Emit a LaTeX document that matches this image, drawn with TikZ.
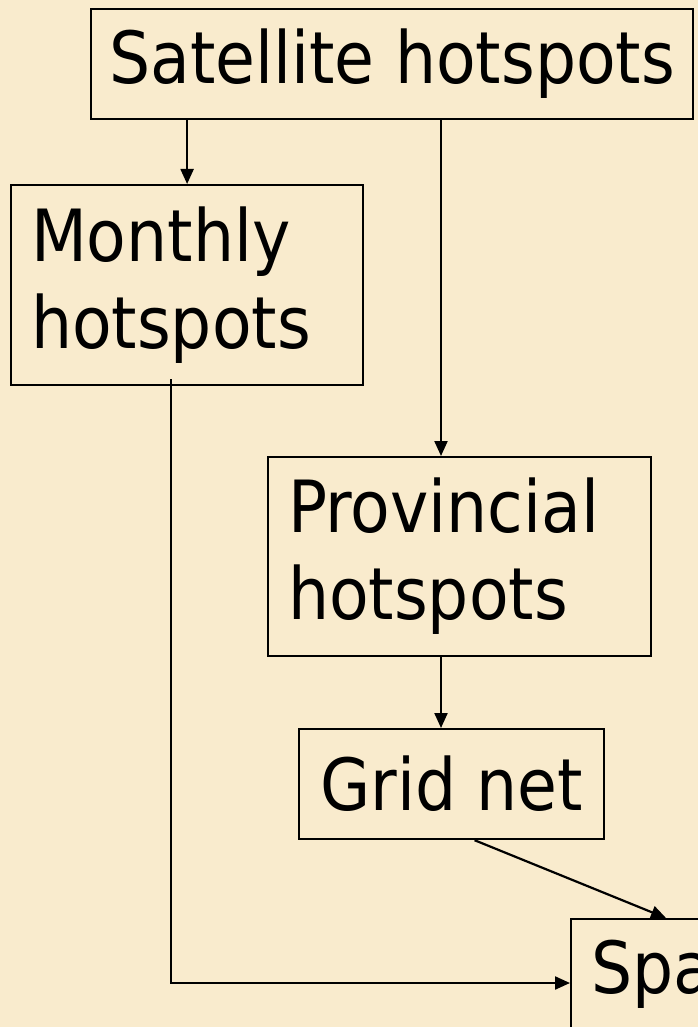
\documentclass[tikz,border=0pt]{standalone}
\usepackage{fontspec}
\setmainfont{DejaVu Sans Condensed}
\usetikzlibrary{positioning, calc, arrows.meta}
\definecolor{parchment}{RGB}{249,235,205}

\begin{document}
\begin{tikzpicture}[x=1pt, y=-1pt]
        % boxes are placed by their top left corner
        \tikzstyle{block}=[draw, line width=2.2pt, rectangle, anchor=north west, inner xsep=20pt, inner ysep=0pt, font=\fontsize{72}{87}\selectfont]
        \tikzstyle{arr}=[line width=2.2pt, -{Triangle[length=15pt, width=13pt]}]

        \fill[parchment] (0,0) rectangle (698,1027);
        \useasboundingbox (0,0) rectangle (698,1027);
        \clip (0,0) rectangle (698,1027);

        \node[block, inner xsep=17pt, minimum width=602pt, minimum height=110pt] (sat) at (90,8) {Satellite hotspots};
        \node[block, text width=312pt, align=left, minimum height=200pt] (mon) at (10,184) {Monthly\\hotspots};
        \node[block, text width=343pt, align=left, minimum height=199pt] (prov) at (267,456) {Provincial\\hotspots};
        \node[block, minimum width=305pt, minimum height=110pt] (grid) at (298,728) {Grid net};
        \node[block, text width=400pt, align=left, minimum height=110pt] (spa) at (570,918) {Spatial};

        \coordinate (vline) at (441,0);

        \draw[arr] (sat.south -| mon.north) -- (mon.north);
        \draw[arr] (sat.south -| vline) -- (prov.north -| vline);
        \draw[arr] (prov.south -| vline) -- (grid.north -| vline);
        \draw[arr] ($(grid.south)+(23,0)$) -- ($(spa.north west)+(96,0)$);
        \draw[arr] ($(mon.south)+(-16,-7)$) |- ($(spa.north west)+(0,65)$);
      \end{tikzpicture}
\end{document}
